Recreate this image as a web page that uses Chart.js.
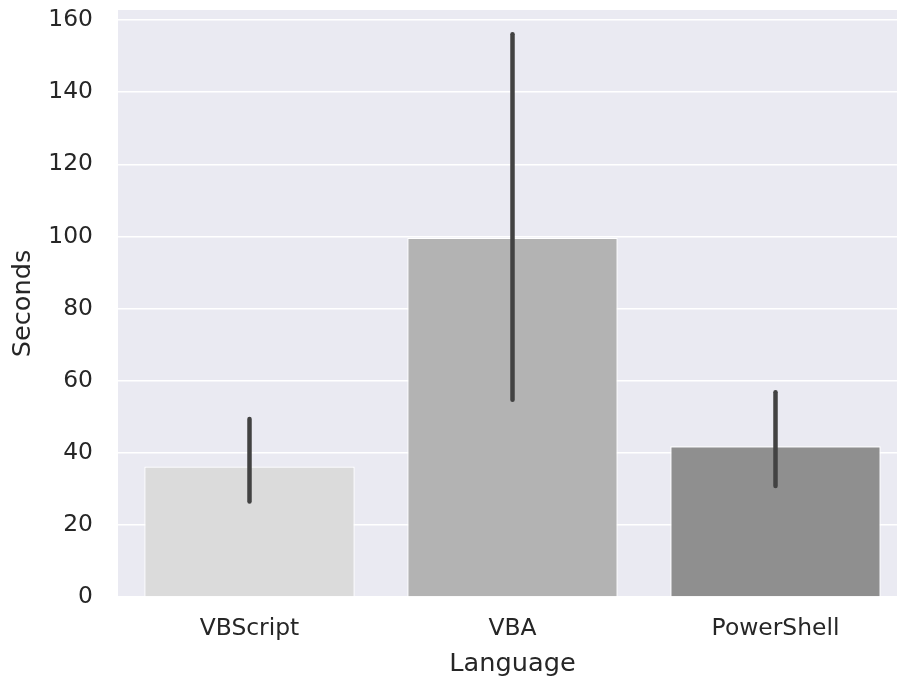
<!DOCTYPE html>
<html>
<head>
<meta charset="utf-8">
<script src="https://cdn.jsdelivr.net/npm/chart.js@4/dist/chart.umd.min.js"></script>
<style>
html,body{margin:0;padding:0;background:#fff;overflow:hidden;}
#wrap{width:909px;height:682px;position:relative;}
</style>
</head>
<body>
<div id="wrap"><canvas id="c"></canvas></div>
<script>
const categories = ["VBScript", "VBA", "PowerShell"];
const meanSeconds = [36.2, 99.6, 41.8];
const ciLow = [26.5, 54.7, 30.8];
const ciHigh = [49.4, 156.1, 56.8];
const barColors = ["#dbdbdb", "#b3b3b3", "#8f8f8f"];
const yTicks = [0, 20, 40, 60, 80, 100, 120, 140, 160];

const bgPlugin = {
  id: 'bg',
  beforeDraw(chart) {
    const {ctx, chartArea: a} = chart;
    ctx.save();
    ctx.fillStyle = '#eaeaf2';
    ctx.fillRect(a.left, a.top, a.right - a.left, a.bottom - a.top);
    ctx.restore();
  }
};
const errPlugin = {
  id: 'err',
  afterDatasetsDraw(chart) {
    const ctx = chart.ctx;
    const meta = chart.getDatasetMeta(0);
    const y = chart.scales.y;
    ctx.save();
    ctx.strokeStyle = '#424242';
    ctx.lineWidth = 4.5;
    ctx.lineCap = 'round';
    meta.data.forEach((bar, i) => {
      ctx.beginPath();
      ctx.moveTo(bar.x, y.getPixelForValue(ciLow[i]));
      ctx.lineTo(bar.x, y.getPixelForValue(ciHigh[i]));
      ctx.stroke();
    });
    ctx.restore();
  }
};

Chart.defaults.font.family = "'DejaVu Sans', sans-serif";
Chart.defaults.color = '#262626';

new Chart(document.getElementById('c'), {
  type: 'bar',
  data: {
    labels: categories,
    datasets: [{
      data: meanSeconds,
      backgroundColor: barColors,
      borderColor: '#ffffff',
      borderWidth: 1.2,
      barPercentage: 0.8,
      categoryPercentage: 1.0
    }]
  },
  options: {
    responsive: true,
    maintainAspectRatio: false,
    animation: false,
    layout: {padding: {top: 10, right: 2, left: 0, bottom: 2}},
    plugins: {legend: {display: false}, tooltip: {enabled: false}},
    scales: {
      x: {
        grid: {display: false, drawTicks: false},
        border: {display: false},
        ticks: {font: {size: 23.4}, padding: 18, color: '#262626'},
        title: {display: true, text: 'Language', font: {size: 25.6}, color: '#262626', padding: {top: 2, bottom: 0}},
        afterFit(s) { s.height = 83; s.paddingLeft = 0; s.paddingRight = 0; }
      },
      y: {
        min: 0,
        max: 162.8,
        grid: {color: '#ffffff', lineWidth: 1.5, drawTicks: false},
        border: {display: false},
        ticks: {font: {size: 23.4}, padding: 25, stepSize: 20, color: '#262626'},
        afterBuildTicks(s) { s.ticks = yTicks.map(v => ({value: v})); },
        title: {display: true, text: 'Seconds', font: {size: 25.6}, color: '#262626', padding: {top: 8, bottom: 2}},
        afterFit(s) { s.width = 118; s.paddingTop = 0; s.paddingBottom = 0; }
      }
    }
  },
  plugins: [bgPlugin, errPlugin]
});
</script>
</body>
</html>
